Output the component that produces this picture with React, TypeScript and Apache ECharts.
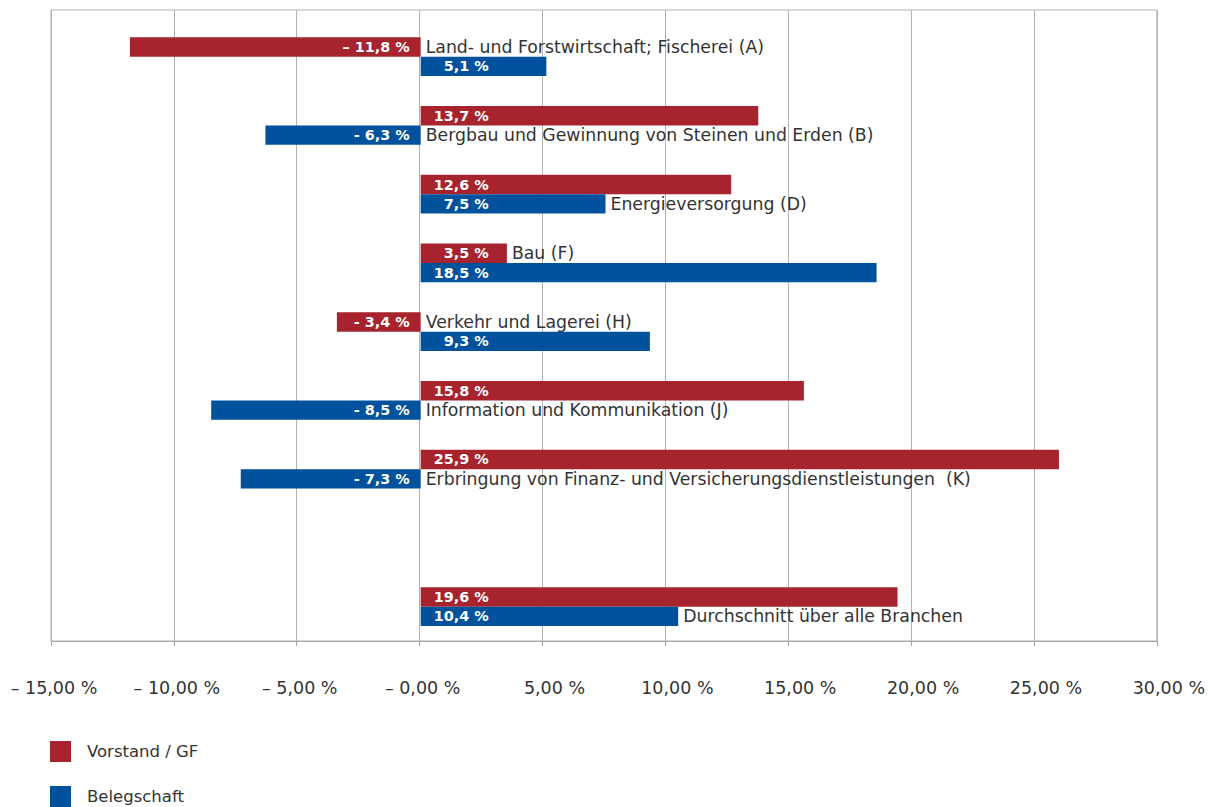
import React, { useEffect, useRef } from "react";
import * as echarts from "echarts";

// ---- data ----
const categories = [
  "Land- und Forstwirtschaft; Fischerei (A)",
  "Bergbau und Gewinnung von Steinen und Erden (B)",
  "Energieversorgung (D)",
  "Bau (F)",
  "Verkehr und Lagerei (H)",
  "Information und Kommunikation (J)",
  "Erbringung von Finanz- und Versicherungsdienstleistungen  (K)",
  "",
  "Durchschnitt über alle Branchen",
];
const seriesNames = ["Vorstand / GF", "Belegschaft"];
const vorstand = [-11.8, 13.7, 12.6, 3.5, -3.4, 15.55, 25.9, null, 19.35];
const belegschaft = [5.1, -6.3, 7.5, 18.5, 9.3, -8.5, -7.3, null, 10.45];
const vorstandLabels = ["– 11,8 %", "13,7 %", "12,6 %", "3,5 %", "- 3,4 %", "15,8 %", "25,9 %", "", "19,6 %"];
const belegschaftLabels = ["5,1 %", "- 6,3 %", "7,5 %", "18,5 %", "9,3 %", "- 8,5 %", "- 7,3 %", "", "10,4 %"];
const xTickValues = [-15, -10, -5, 0, 5, 10, 15, 20, 25, 30];
const xTickLabels = ["– 15,00 %", "– 10,00 %", "– 5,00 %", "– 0,00 %", "5,00 %", "10,00 %", "15,00 %", "20,00 %", "25,00 %", "30,00 %"];

const RED = "#A7232E";
const BLUE = "#00529C";
const FONT = "DejaVu Sans";

export default function App() {
  const ref = useRef<HTMLDivElement>(null);

  useEffect(() => {
    if (!ref.current) return;
    const chart = echarts.init(ref.current, undefined, { renderer: "svg" });

    const valueFont = { color: "#ffffff", fontWeight: "bold", fontSize: 14.4, fontFamily: FONT };
    const valueLabel = (v: number | null, text: string) => {
      if (v == null) return { show: false };
      if (v >= 0)
        return { show: true, position: "insideLeft", distance: 0, align: "right", offset: [68, 0], formatter: text, ...valueFont };
      return { show: true, position: "insideRight", distance: 11, formatter: text, ...valueFont };
    };
    const nameFont = { color: "#333333", fontSize: 17.3, fontFamily: FONT };
    const nameOnVorstand = (i: number) =>
      vorstand[i] != null && belegschaft[i] != null && (vorstand[i] as number) <= (belegschaft[i] as number);

    const barData = (vals: (number | null)[], labels: string[]) =>
      vals.map((v, i) => ({ value: v, label: valueLabel(v, labels[i]) }));
    const nameData = (vals: (number | null)[], isVorstand: boolean) =>
      vals.map((v, i) => {
        const show = v != null && (isVorstand ? nameOnVorstand(i) : !nameOnVorstand(i));
        return {
          value: v,
          label: show
            ? { show: true, position: "right", distance: 5, formatter: categories[i], ...nameFont }
            : { show: false },
        };
      });

    const gridBox = { left: 51, right: 48, bottom: 166 };
    const barCommon = { barWidth: 19.3, barGap: "0%", silent: true };

    const option: any = {
      animation: false,
      backgroundColor: "#ffffff",
      grid: [
        { ...gridBox, top: 10, show: true, borderColor: "#b3b3b3", borderWidth: 1, backgroundColor: "transparent" },
        { ...gridBox, top: 22.3 },
        { ...gridBox, top: 22.3 },
      ],
      xAxis: [
        {
          type: "value",
          gridIndex: 0,
          min: -15,
          max: 30,
          interval: 5,
          axisLine: { show: true, lineStyle: { color: "#a6a6a6", width: 1 } },
          axisTick: { show: true, length: 5, lineStyle: { color: "#a6a6a6" } },
          splitLine: { show: true, lineStyle: { color: "#b3b3b3", width: 1 } },
          axisLabel: {
            margin: 38,
            formatter: (val: number) => {
              const idx = xTickValues.indexOf(Math.round(val));
              const t = idx >= 0 ? xTickLabels[idx] : "";
              return val <= 0 ? `{n|${t}}` : `{p|${t}}`;
            },
            rich: {
              n: { fontSize: 17.5, fontFamily: FONT, color: "#333333", padding: [0, 0, 0, 6] },
              p: { fontSize: 17.5, fontFamily: FONT, color: "#333333", padding: [0, 0, 0, 24] },
            },
          },
        },
        { type: "value", gridIndex: 1, min: -15, max: 30, interval: 5, show: false },
        { type: "value", gridIndex: 2, min: -15, max: 30, interval: 5, show: false },
      ],
      yAxis: [
        { type: "value", gridIndex: 0, min: 0, max: 1, show: false },
        { type: "category", gridIndex: 1, data: categories, inverse: true, show: false },
        { type: "category", gridIndex: 2, data: categories, inverse: true, show: false },
      ],
      legend: {
        data: seriesNames,
        orient: "vertical",
        left: 50,
        top: 741,
        padding: 0,
        itemWidth: 21,
        itemHeight: 21,
        itemGap: 24,
        icon: "rect",
        selectedMode: false,
        textStyle: { fontSize: 16.5, fontFamily: FONT, color: "#333333", padding: [0, 0, 0, 11] },
      },
      series: [
        {
          name: seriesNames[0],
          type: "bar",
          xAxisIndex: 1,
          yAxisIndex: 1,
          ...barCommon,
          itemStyle: { color: RED },
          data: barData(vorstand, vorstandLabels),
        },
        {
          name: seriesNames[1],
          type: "bar",
          xAxisIndex: 1,
          yAxisIndex: 1,
          ...barCommon,
          itemStyle: { color: BLUE },
          data: barData(belegschaft, belegschaftLabels),
        },
        {
          name: "names-v",
          type: "bar",
          xAxisIndex: 2,
          yAxisIndex: 2,
          ...barCommon,
          itemStyle: { color: "rgba(0,0,0,0)" },
          data: nameData(vorstand, true),
        },
        {
          name: "names-b",
          type: "bar",
          xAxisIndex: 2,
          yAxisIndex: 2,
          ...barCommon,
          itemStyle: { color: "rgba(0,0,0,0)" },
          data: nameData(belegschaft, false),
        },
      ],
    };

    chart.setOption(option);
    return () => chart.dispose();
  }, []);

  return (
    <div
      ref={ref}
      style={{ position: "absolute", left: 0, top: 0, width: 1208, height: 807, background: "#ffffff" }}
    />
  );
}
